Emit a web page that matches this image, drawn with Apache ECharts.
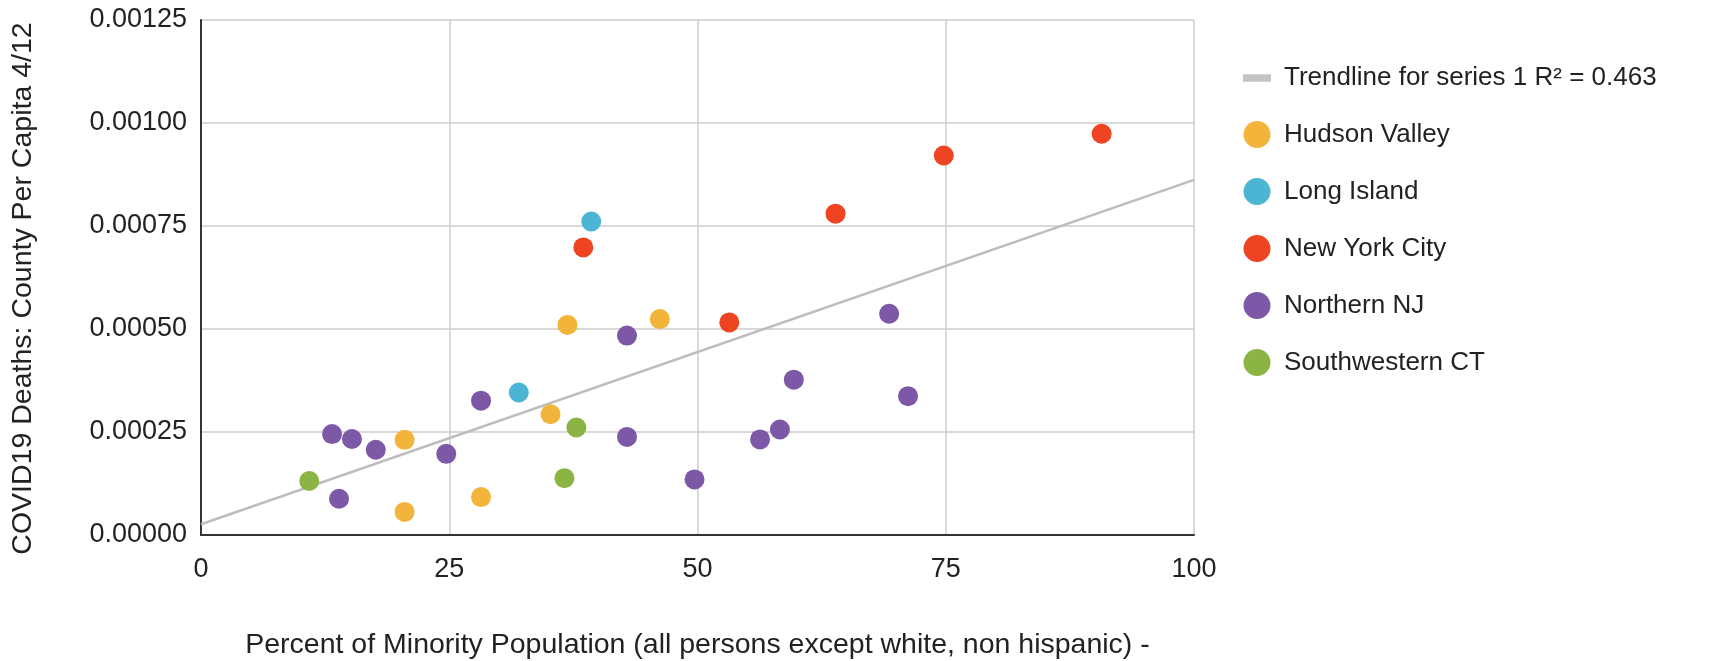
<!DOCTYPE html>
<html>
<head>
<meta charset="utf-8">
<script src="https://cdn.jsdelivr.net/npm/echarts@6/dist/echarts.min.js"></script>
<style>
html,body{margin:0;padding:0;background:#fff;overflow:hidden;}
#chart{width:1711px;height:661px;}
</style>
</head>
<body>
<div id="chart"></div>
<script>
// Data: [percent minority, deaths per capita]
const hudsonValley = [[20.5,0.000231],[20.5,0.000056],[28.2,0.000092],[35.2,0.000293],[36.9,0.000510],[46.2,0.000524]];
const longIsland = [[32.0,0.000346],[39.3,0.000761]];
const newYorkCity = [[38.5,0.000698],[53.2,0.000516],[63.9,0.000780],[74.8,0.000921],[90.7,0.000974]];
const northernNJ = [[13.2,0.000245],[15.2,0.000233],[17.6,0.000207],[13.9,0.000088],[24.7,0.000197],[28.2,0.000326],[42.9,0.000484],[42.9,0.000238],[49.7,0.000135],[56.3,0.000232],[58.3,0.000256],[59.7,0.000377],[69.3,0.000537],[71.2,0.000337]];
const southwesternCT = [[10.9,0.000131],[36.6,0.000138],[37.8,0.000261]];
const trendline = [[0,0.000026],[100,0.000862]];

const seriesNames = ['Hudson Valley','Long Island','New York City','Northern NJ','Southwestern CT'];
const seriesData = [hudsonValley, longIsland, newYorkCity, northernNJ, southwesternCT];
const seriesColors = ['#F2B43A','#4DB5D4','#EE4422','#7D58A6','#8BB445'];
const trendName = 'Trendline for series 1 R\u00B2 = 0.463';

const xTicks = [0,25,50,75,100];
const yTicks = [0,0.00025,0.0005,0.00075,0.001,0.00125];

const font = 'Liberation Sans, Arial, sans-serif';
const chart = echarts.init(document.getElementById('chart'));

const series = [{
  name: trendName,
  type: 'line',
  data: trendline,
  symbol: 'none',
  lineStyle: {color:'#BDBDBD', width:2.5},
  itemStyle: {color:'#BDBDBD'},
  z: 1,
  silent: true
}];
seriesNames.forEach((n,i)=>{
  series.push({
    name: n,
    type: 'scatter',
    data: seriesData[i],
    symbolSize: 20,
    itemStyle: {color: seriesColors[i], opacity: 1},
    z: 3
  });
});

chart.setOption({
  animation: false,
  backgroundColor: '#fff',
  textStyle: {fontFamily: font},
  grid: {left: 201, right: 517, top: 20, bottom: 126, containLabel: false, outerBoundsMode: 'none'},
  legend: {
    orient: 'vertical',
    left: 1238,
    top: 60,
    itemGap: 30,
    itemWidth: 28,
    itemHeight: 27,
    textStyle: {fontSize: 26, color: '#222', fontFamily: font, padding:[0,0,0,8]},
    data: [
      {name: trendName, icon: 'path://M0,0 L30,0 L30,8 L0,8 Z', itemStyle:{color:'#C4C4C4'}},
      ...seriesNames.map(n=>({name:n, icon:'circle'}))
    ]
  },
  xAxis: {
    type: 'value',
    min: xTicks[0],
    max: xTicks[xTicks.length-1],
    interval: 25,
    name: 'Percent of Minority Population (all persons except white, non hispanic) -',
    nameLocation: 'middle',
    nameGap: 96,
    nameTextStyle: {fontSize: 28.5, color: '#222', fontFamily: font},
    axisLine: {show: true, lineStyle: {color: '#333', width: 2}},
    axisTick: {show: false},
    axisLabel: {fontSize: 27, color: '#222', margin: 21, fontFamily: font},
    splitLine: {show: true, lineStyle: {color: '#CCCCCC', width: 1.5}}
  },
  yAxis: {
    type: 'value',
    min: yTicks[0],
    max: yTicks[yTicks.length-1],
    interval: 0.00025,
    name: 'COVID19 Deaths: County Per Capita 4/12',
    nameLocation: 'middle',
    nameGap: 163,
    nameRotate: 90,
    nameTextStyle: {fontSize: 28.5, color: '#222', fontFamily: font, padding:[0,22,0,0]},
    axisLine: {show: true, lineStyle: {color: '#333', width: 2}},
    axisTick: {show: false},
    axisLabel: {fontSize: 27, color: '#222', margin: 14, fontFamily: font,
      formatter: v => v.toFixed(5)},
    splitLine: {show: true, lineStyle: {color: '#CCCCCC', width: 1.5}}
  },
  series: series
});
</script>
</body>
</html>
